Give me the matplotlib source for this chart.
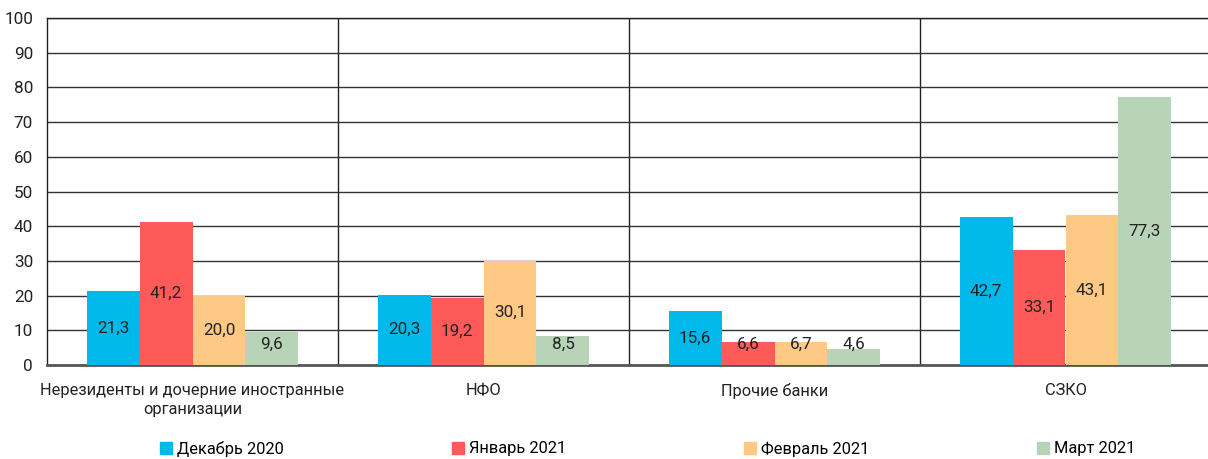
import numpy as np
import matplotlib
matplotlib.use("Agg")
import matplotlib.pyplot as plt
from matplotlib.patches import Patch

plt.rcParams['font.family'] = ['Roboto', 'DejaVu Sans']

categories = ['Нерезиденты и дочерние иностранные\nорганизации', 'НФО', 'Прочие банки', 'СЗКО']
series_names = ['Декабрь 2020', 'Январь 2021', 'Февраль 2021', 'Март 2021']
dec_2020 = [21.3, 20.3, 15.6, 42.7]
jan_2021 = [41.2, 19.2, 6.6, 33.1]
feb_2021 = [20.0, 30.1, 6.7, 43.1]
mar_2021 = [9.6, 8.5, 4.6, 77.3]
colors = ['#00B9EB', '#FF5A5A', '#FDC985', '#B8D4B8']

series = [dec_2020, jan_2021, feb_2021, mar_2021]

fs = 11.8

fig = plt.figure(figsize=(12.08, 4.59), dpi=100)
ax = fig.add_axes([47 / 1208, 1 - 365 / 459, 1164 / 1208, 347 / 459])

x = np.arange(len(categories))
w = 0.182
for i, (vals, c) in enumerate(zip(series, colors)):
    pos = x + (i - 1.5) * w
    bars = ax.bar(pos, vals, width=w, color=c, zorder=3)
    for b, v in zip(bars, vals):
        ax.text(b.get_x() + b.get_width() / 2, max(v / 2, 6), f'{v:.1f}'.replace('.', ','),
                ha='center', va='center', fontsize=fs + 0.5, color='#222222', zorder=4)

ax.set_ylim(0, 100)
ax.set_xlim(-0.5, len(categories) - 0.5)
ax.set_yticks(range(0, 101, 10))
ax.set_xticks(x)
ax.set_xticklabels(categories, fontsize=fs, color='#222222', linespacing=1.35)
ax.tick_params(axis='y', labelsize=fs + 0.5, length=0, pad=10, labelcolor='#222222')
ax.tick_params(axis='x', length=0, pad=13)
ax.yaxis.grid(True, color='#333333', lw=1, zorder=0)
for b in np.arange(0.5, len(categories) - 0.5, 1):
    ax.axvline(b, color='#222222', lw=1, zorder=1)
for s in ['top', 'left', 'right']:
    ax.spines[s].set_color('#222222')
    ax.spines[s].set_linewidth(1)
ax.spines['bottom'].set_color('#555555')
ax.spines['bottom'].set_linewidth(2)

leg_x = [160, 452, 744, 1037]
for name, c, lx in zip(series_names, colors, leg_x):
    fig.legend(handles=[Patch(color=c)], labels=[name], loc='center left',
               bbox_to_anchor=(lx / 1208, 1 - 449 / 459), frameon=False,
               fontsize=fs, handlelength=0.75, handleheight=0.75,
               handletextpad=0.3, borderaxespad=0, borderpad=0)

fig.savefig('out.png', dpi=100)
